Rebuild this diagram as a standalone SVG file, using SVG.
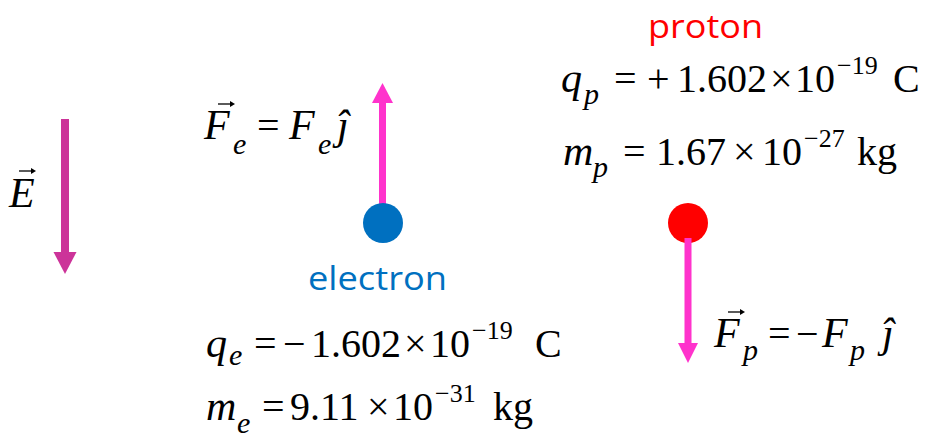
<svg xmlns="http://www.w3.org/2000/svg" width="930" height="439" viewBox="0 0 930 439">
<style>
.m{font-family:"Liberation Serif","Times New Roman",serif;font-size:40px;fill:#000}
.i{font-style:italic}
.v{font-size:42px}
.s{font-size:30px}
.sp{font-size:26px}
.lbl{font-family:"Open Sans","Noto Sans",sans-serif;font-size:32px}
.va{stroke:#000;stroke-width:1.3;fill:none}
.vh{fill:#000}
</style>
<rect width="930" height="439" fill="#fff"/>

<g id="field">
  <rect x="61" y="119" width="8" height="134" fill="#CC3399"/>
  <polygon points="53.5,252 76.5,252 65,274" fill="#CC3399"/>
  <text class="m i v" x="9" y="207">E</text>
  <line class="va" x1="19" y1="171" x2="33" y2="171"/>
  <polygon class="vh" points="31,168 36,171 31,174"/>
</g>

<g id="electron">
  <rect x="379" y="102" width="7" height="106" fill="#FF33CC"/>
  <polygon points="372,103 393,103 382.5,83" fill="#FF33CC"/>
  <circle cx="383" cy="223" r="20" fill="#0070C0"/>
  <text class="lbl" x="308" y="290" fill="#0070C0" textLength="139" lengthAdjust="spacingAndGlyphs">electron</text>
</g>

<g id="force-e">
  <text class="m i v" x="204" y="139">F</text>
  <line class="va" x1="218" y1="104" x2="232" y2="104"/>
  <polygon class="vh" points="230,101 235,104 230,107"/>
  <text class="m i s" x="233" y="154">e</text>
  <text class="m" x="257" y="139">=</text>
  <text class="m i v" x="289" y="139">F</text>
  <text class="m i s" x="318" y="154">e</text>
  <text class="m i v" x="337" y="139">ĵ</text>
</g>

<g id="electron-data">
  <text class="m i v" x="206" y="357">q</text>
  <text class="m i s" x="229" y="365">e</text>
  <text class="m" x="254" y="357">=</text>
  <text class="m" x="283" y="357">−</text>
  <text class="m" x="311" y="357">1.602</text>
  <text class="m" x="404" y="357">×</text>
  <text class="m" x="430" y="357">10</text>
  <text class="m sp" x="472" y="339">−19</text>
  <text class="m" x="535" y="357">C</text>

  <text class="m i v" x="206" y="420">m</text>
  <text class="m i s" x="237" y="433">e</text>
  <text class="m" x="262" y="420">=</text>
  <text class="m" x="290" y="420">9.11</text>
  <text class="m" x="367" y="420">×</text>
  <text class="m" x="393" y="420">10</text>
  <text class="m sp" x="435" y="402">−31</text>
  <text class="m" x="493" y="420">kg</text>
</g>

<g id="proton">
  <text class="lbl" x="648" y="38" fill="#FF0000" textLength="115" lengthAdjust="spacingAndGlyphs">proton</text>
  <circle cx="688" cy="223" r="20" fill="#FF0000"/>
  <rect x="684.5" y="238" width="7" height="106" fill="#FF33CC"/>
  <polygon points="678,343 698,343 688,363" fill="#FF33CC"/>
</g>

<g id="proton-data">
  <text class="m i v" x="561" y="92">q</text>
  <text class="m i s" x="584" y="104">p</text>
  <text class="m" x="614" y="92">=</text>
  <text class="m" x="647" y="92">+</text>
  <text class="m" x="677" y="92">1.602</text>
  <text class="m" x="770" y="92">×</text>
  <text class="m" x="795" y="92">10</text>
  <text class="m sp" x="837" y="74">−19</text>
  <text class="m" x="893" y="92">C</text>

  <text class="m i v" x="563" y="165">m</text>
  <text class="m i s" x="593" y="177">p</text>
  <text class="m" x="623" y="165">=</text>
  <text class="m" x="656" y="165">1.67</text>
  <text class="m" x="733" y="165">×</text>
  <text class="m" x="762" y="165">10</text>
  <text class="m sp" x="804" y="147">−27</text>
  <text class="m" x="857" y="165">kg</text>
</g>

<g id="force-p">
  <text class="m i v" x="714" y="347">F</text>
  <line class="va" x1="728" y1="312" x2="742" y2="312"/>
  <polygon class="vh" points="740,309 745,312 740,315"/>
  <text class="m i s" x="743" y="360">p</text>
  <text class="m" x="768" y="347">=</text>
  <text class="m" x="796" y="347">−</text>
  <text class="m i v" x="822" y="347">F</text>
  <text class="m i s" x="850" y="360">p</text>
  <text class="m i v" x="882" y="347">ĵ</text>
</g>
</svg>
